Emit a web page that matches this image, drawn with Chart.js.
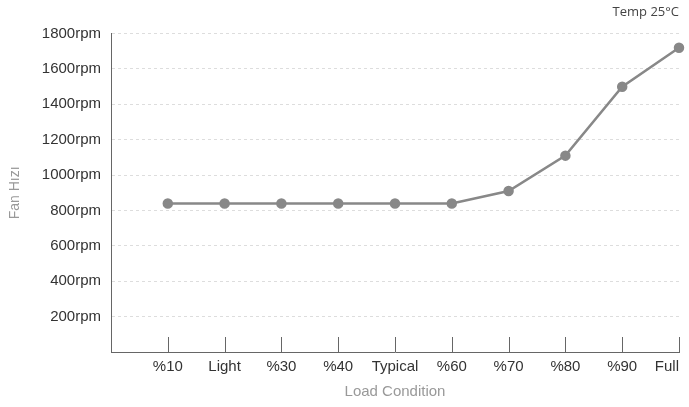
<!DOCTYPE html>
<html lang="en">
<head>
  <meta charset="UTF-8">
  <title>Fan Hızı</title>
  <script src="https://cdn.jsdelivr.net/npm/chart.js"></script>
  <style>
    html, body { margin: 0; padding: 0; background: #fff; }
    #wrap { width: 689px; height: 407px; }
  </style>
</head>
<body>
  <div id="wrap"><canvas id="fanChart"></canvas></div>

  <script>
    const loadLabels = ['%10', 'Light', '%30', '%40', 'Typical', '%60', '%70', '%80', '%90', 'Full'];
    const fanSpeed = [840, 840, 840, 840, 840, 840, 910, 1110, 1500, 1720];
    const rpmTicks = [200, 400, 600, 800, 1000, 1200, 1400, 1600, 1800];

    // empty slot at the start so the first point sits one step right of the axis
    const labels = [''].concat(loadLabels);
    const values = [null].concat(fanSpeed);

    const innerTicks = {
      id: 'innerTicks',
      afterDraw(chart) {
        const x = chart.scales.x;
        const bottom = chart.chartArea.bottom;
        const c = chart.ctx;
        c.save();
        c.strokeStyle = '#666';
        c.lineWidth = 1;
        for (let i = 1; i < labels.length; i++) {
          const px = Math.round(x.getPixelForTick(i)) + 0.5;
          c.beginPath();
          c.moveTo(px, bottom - 15);
          c.lineTo(px, bottom);
          c.stroke();
        }
        c.restore();
      }
    };

    const ctx = document.getElementById('fanChart').getContext('2d');
    new Chart(ctx, {
      type: 'line',
      data: {
        labels: labels,
        datasets: [{
          label: 'Fan Hızı',
          data: values,
          borderColor: '#888',
          backgroundColor: '#888',
          borderWidth: 2.5,
          pointRadius: 4,
          pointHoverRadius: 5,
          tension: 0
        }]
      },
      options: {
        responsive: true,
        maintainAspectRatio: false,
        animation: false,
        layout: { padding: { left: 0, right: 10, top: 0, bottom: 0 } },
        plugins: {
          legend: { display: false },
          tooltip: { enabled: false },
          title: {
            display: true,
            text: 'Temp 25°C',
            align: 'end',
            color: '#444',
            font: { family: 'Open Sans', size: 13, weight: 'normal' },
            padding: { top: 4, bottom: 14 }
          }
        },
        scales: {
          x: {
            offset: false,
            grid: { display: false, drawTicks: false },
            border: { display: true, color: '#666', width: 1 },
            ticks: {
              color: '#333',
              font: { family: 'Liberation Sans', size: 15 },
              padding: 6,
              align: 'inner',
              maxRotation: 0,
              autoSkip: false
            },
            title: {
              display: true,
              text: 'Load Condition',
              color: '#999',
              font: { family: 'Liberation Sans', size: 15 },
              padding: { top: 4, bottom: 6 }
            },
            afterFit(scale) {
              scale.height = 55;
              scale.paddingLeft = 0;
              scale.paddingRight = 0;
            }
          },
          y: {
            min: 0,
            max: 1800,
            afterBuildTicks(scale) {
              scale.ticks = [0].concat(rpmTicks).map(v => ({ value: v }));
            },
            grid: {
              drawTicks: false,
              color: c => (c.tick && c.tick.value === 0) ? 'rgba(0,0,0,0)' : '#ddd'
            },
            border: { display: true, color: '#666', width: 1, dash: [3, 3] },
            ticks: {
              color: '#333',
              font: { family: 'Liberation Sans', size: 15 },
              padding: 10,
              callback: v => v === 0 ? '' : v + 'rpm'
            },
            title: {
              display: true,
              text: 'Fan Hızı',
              color: '#999',
              font: { family: 'Liberation Sans', size: 14 },
              padding: { top: 7, bottom: 0 }
            },
            afterFit(scale) { scale.width = 111; }
          }
        }
      },
      plugins: [innerTicks]
    });
  </script>
</body>
</html>
